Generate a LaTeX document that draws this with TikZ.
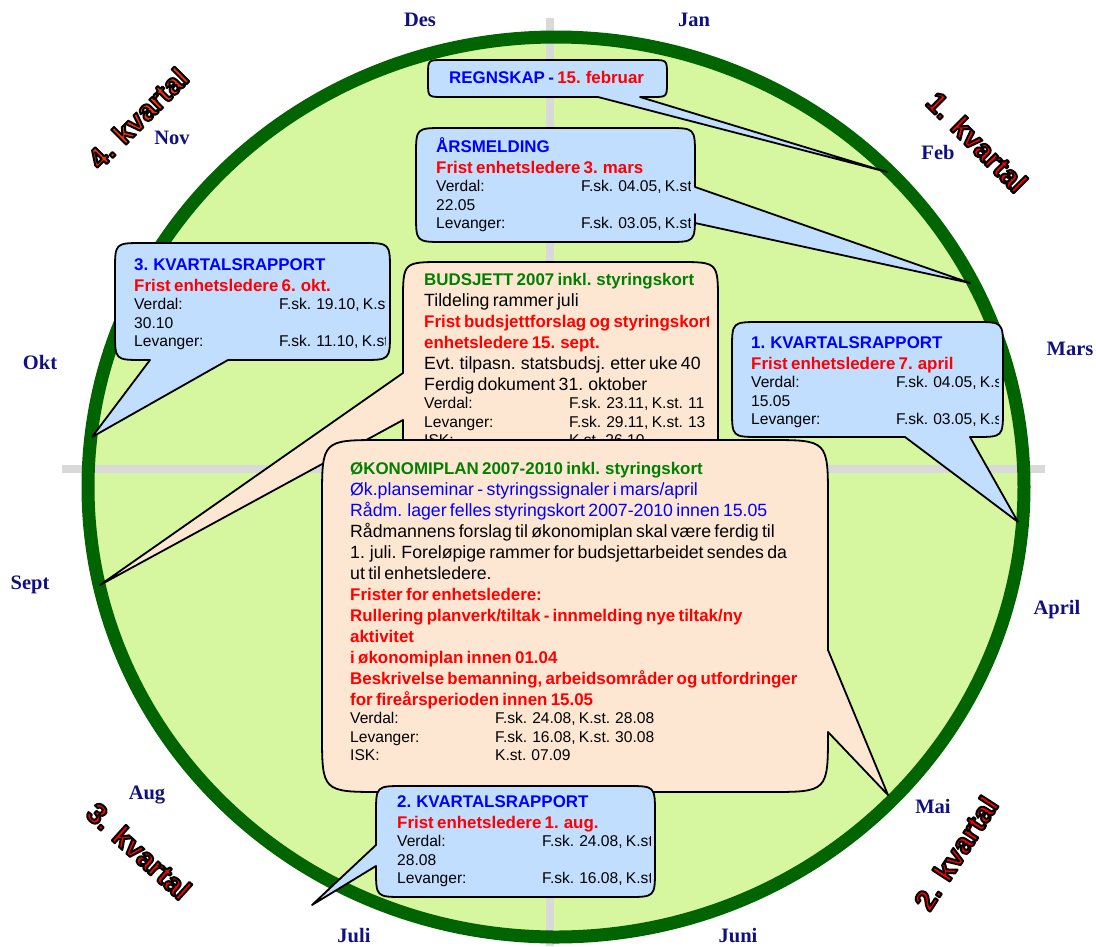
\documentclass[tikz,border=0pt]{standalone}
\usepackage{fontspec}
\setmainfont{Liberation Sans}
\newfontfamily\monthfont{Liberation Serif}

\definecolor{ringgreen}{RGB}{0,100,0}
\definecolor{fieldgreen}{RGB}{214,246,160}
\definecolor{boxblue}{RGB}{193,222,255}
\definecolor{boxpeach}{RGB}{253,231,211}
\definecolor{crossgray}{RGB}{217,217,217}
\definecolor{hdblue}{RGB}{0,0,255}
\definecolor{hdred}{RGB}{255,0,0}
\definecolor{hdgreen}{RGB}{0,128,0}
\definecolor{monthblue}{RGB}{16,16,128}
\definecolor{qorange}{RGB}{255,51,0}

\newcommand{\hd}{\fontsize{16.9}{21}\selectfont\bfseries}
\newcommand{\bd}{\fontsize{17.7}{21}\selectfont}
\newcommand{\sm}{\fontsize{15.6}{18.5}\selectfont}
\newcommand{\kol}[1]{\makebox[145pt][l]{#1}}
\newcommand{\outl}[1]{\special{pdf:literal direct 2 Tr 2 w 1 j 0 0 0 RG}#1\special{pdf:literal direct 0 Tr}}

\tikzset{
  callblue/.style={draw=black, line width=1.8pt, fill=boxblue, line join=round},
  callpeach/.style={draw=black, line width=1.8pt, fill=boxpeach, line join=round},
  boxtext/.style={anchor=base west, inner sep=0pt, align=left, text width=#1},
  boxtext/.default=300pt,
  month/.style={font=\monthfont\fontsize{20.5}{24}\selectfont\bfseries, text=monthblue},
  quarter/.style={font=\fontsize{29}{32}\selectfont\bfseries, inner sep=0pt},
  crossline/.style={draw=crossgray, line width=8pt}
}

\begin{document}
\begin{tikzpicture}[x=1pt,y=-1pt]
\useasboundingbox (0,0) rectangle (1096,946);
\fill[fieldgreen] (556,487) ellipse (468 and 450);
\draw[crossline] (550,18) -- (550,946);
\draw[crossline] (62,469) -- (1045,469);
\draw[ringgreen, line width=13pt] (556,487) ellipse (468 and 450);

\node[month] (des) at (420,20) {Des};
\node[month] (jan) at (694,20) {Jan};
\node[month] (feb) at (938,152) {Feb};
\node[month] (mars) at (1070,349) {Mars};
\node[month] (april) at (1057,610) {April};
\node[month] (mai) at (933,806) {Mai};
\node[month] (juni) at (738,936) {Juni};
\node[month] (juli) at (354,936) {Juli};
\node[month] (aug) at (147,795) {Aug};
\node[month] (sept) at (30,585) {Sept};
\node[month] (okt) at (40,362) {Okt};
\node[month] (nov) at (172,138) {Nov};

\node[quarter, rotate=45] (q4) at (138,118) {\textcolor{qorange}{\outl{4. kvartal}}};
\node[quarter, rotate=-45] (q1) at (977,142) {\textcolor{hdred}{\outl{1. kvartal}}};
\node[quarter, rotate=-42] (q3) at (139,851) {\textcolor{hdred}{\outl{3. kvartal}}};
\node[quarter, rotate=57] (q2) at (956,853) {\textcolor{hdred}{\outl{2. kvartal}}};

\draw[callblue] (428,75) .. controls (428,60) .. (443,60) -- (652,60) .. controls (667,60) .. (667,75) -- (667,82) .. controls (667,97) .. (652,97) -- (640,97) -- (887,172) -- (598,97) -- (443,97) .. controls (428,97) .. (428,82) -- cycle;
\node[boxtext] (regnskap) at (449,83) {\hd\textcolor{hdblue}{REGNSKAP - }\textcolor{hdred}{15. februar}};

\draw[callblue] (416,156) .. controls (416,128) .. (444,128) -- (667,128) .. controls (695,128) .. (695,156) -- (695,187) -- (970,283) -- (695,223) -- (695,214) .. controls (695,242) .. (667,242) -- (444,242) .. controls (416,242) .. (416,214) -- cycle;
\begin{scope}
\clip (416,128) rectangle (690,242);
\node[boxtext] (aarsmelding) at (436,152) {{\hd\textcolor{hdblue}{ÅRSMELDING}\par}{\hd\textcolor{hdred}{Frist enhetsledere 3. mars}\par}{\sm\kol{Verdal:}F.sk. 04.05, K.st.\par 22.05\par\kol{Levanger:}F.sk. 03.05, K.st.\par}};
\end{scope}

\draw[callblue] (115,271) .. controls (115,243) .. (143,243) -- (362,243) .. controls (390,243) .. (390,271) -- (390,332) .. controls (390,360) .. (362,360) -- (228,360) -- (92,437) -- (150,360) -- (143,360) .. controls (115,360) .. (115,332) -- cycle;
\begin{scope}
\clip (115,243) rectangle (385,360);
\node[boxtext] (kv3) at (134,270) {{\hd\textcolor{hdblue}{3. KVARTALSRAPPORT}\par}{\hd\textcolor{hdred}{Frist enhetsledere 6. okt.}\par}{\sm\kol{Verdal:}F.sk. 19.10, K.st.\par 30.10\par\kol{Levanger:}F.sk. 11.10, K.st.\par}};
\end{scope}

\draw[callblue] (732,350) .. controls (732,322) .. (760,322) -- (975,322) .. controls (1003,322) .. (1003,350) -- (1003,409) .. controls (1003,437) .. (975,437) -- (970,437) -- (1018,522) -- (905,437) -- (760,437) .. controls (732,437) .. (732,409) -- cycle;
\begin{scope}
\clip (732,322) rectangle (998,437);
\node[boxtext] (kv1) at (751,348) {{\hd\textcolor{hdblue}{1. KVARTALSRAPPORT}\par}{\hd\textcolor{hdred}{Frist enhetsledere 7. april}\par}{\sm\kol{Verdal:}F.sk. 04.05, K.st.\par 15.05\par\kol{Levanger:}F.sk. 03.05, K.st.\par}};
\end{scope}

\draw[callpeach] (403,302) .. controls (403,262) .. (443,262) -- (678,262) .. controls (718,262) .. (718,302) -- (718,440) .. controls (718,480) .. (678,480) -- (443,480) .. controls (403,480) .. (403,440) -- (403,420) -- (100,585) -- (403,373) -- cycle;
\begin{scope}
\clip (403,262) rectangle (708,480);
\node[boxtext] (budsjett) at (424,285) {{\hd\textcolor{hdgreen}{BUDSJETT 2007 inkl. styringskort}\par}{\bd Tildeling rammer juli\par}{\hd\textcolor{hdred}{Frist budsjettforslag og styringskort}\par\textcolor{hdred}{enhetsledere 15. sept.}\par}{\bd Evt. tilpasn. statsbudsj. etter uke 40\par Ferdig dokument 31. oktober\par}{\sm\kol{Verdal:}F.sk. 23.11, K.st. 11\par\kol{Levanger:}F.sk. 29.11, K.st. 13\par\kol{ISK:}K.st. 26.10\par}};
\end{scope}

\draw[callpeach] (322,500) .. controls (322,440) .. (382,440) -- (768,440) .. controls (828,440) .. (828,500) -- (828,650) -- (888,795) -- (828,732) .. controls (828,792) .. (768,792) -- (382,792) .. controls (322,792) .. (322,732) -- cycle;
\node[boxtext=480pt] (okplan) at (350,474) {{\hd\textcolor{hdgreen}{ØKONOMIPLAN 2007-2010 inkl. styringskort}\par}{\bd\textcolor{hdblue}{Øk.planseminar - styringssignaler i mars/april}\par\textcolor{hdblue}{Rådm. lager felles styringskort 2007-2010 innen 15.05}\par Rådmannens forslag til økonomiplan skal være ferdig til\par 1. juli. Foreløpige rammer for budsjettarbeidet sendes da\par ut til enhetsledere.\par}{\hd\color{hdred}Frister for enhetsledere:\par Rullering planverk/tiltak - innmelding nye tiltak/ny\par aktivitet\par i økonomiplan innen 01.04\par Beskrivelse bemanning, arbeidsområder og utfordringer\par for fireårsperioden innen 15.05\par}{\sm\kol{Verdal:}F.sk. 24.08, K.st. 28.08\par\kol{Levanger:}F.sk. 16.08, K.st. 30.08\par\kol{ISK:}K.st. 07.09\par}};

\draw[callblue] (376,814) .. controls (376,786) .. (404,786) -- (627,786) .. controls (655,786) .. (655,814) -- (655,869) .. controls (655,897) .. (627,897) -- (404,897) .. controls (376,897) .. (376,869) -- (376,866) -- (312,905) -- (376,845) -- cycle;
\begin{scope}
\clip (376,786) rectangle (650,897);
\node[boxtext] (kv2) at (397,807) {{\hd\textcolor{hdblue}{2. KVARTALSRAPPORT}\par}{\hd\textcolor{hdred}{Frist enhetsledere 1. aug.}\par}{\sm\kol{Verdal:}F.sk. 24.08, K.st.\par 28.08\par\kol{Levanger:}F.sk. 16.08, K.st.\par}};
\end{scope}
\end{tikzpicture}
\end{document}
